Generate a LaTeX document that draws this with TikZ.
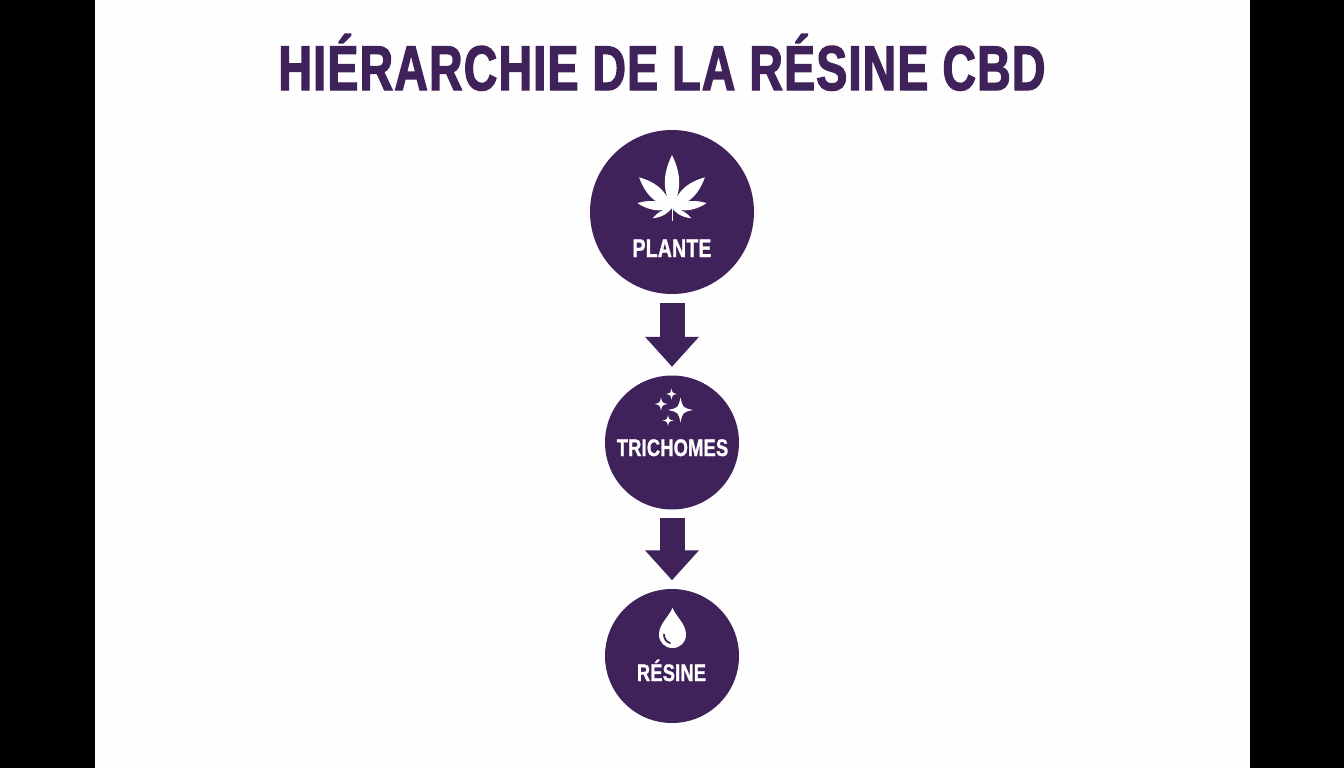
\documentclass[tikz,border=0pt]{standalone}
\usepackage{fontspec}
\usetikzlibrary{arrows.meta}
\newfontfamily\cond[UprightFont=* Bold,FakeStretch=0.76,FakeBold=1.2,LetterSpace=1]{Liberation Sans}
\newfontfamily\condt[UprightFont=* Bold,FakeStretch=0.733,FakeBold=2.2,LetterSpace=2.2]{Liberation Sans}
\definecolor{hpurple}{HTML}{3F2259}
\definecolor{hpage}{HTML}{FEFEFE}
\tikzset{
  x=1pt,y=-1pt,
  disc/.style={circle,fill=hpurple,inner sep=0pt,minimum size=#1},
  lab/.style={text=white,inner sep=0pt},
  flow/.style={draw=hpurple,line width=25pt,shorten <=9pt,shorten >=8.5pt,
    -{Triangle[length=30pt,width=52pt,color=hpurple]}},
  glyph/.style={fill=white,draw=none}
}
\newcommand{\leaflet}[4]{% angle, length, half width, base
  \fill[glyph,shift={#4},rotate=#1]
    (0,0) .. controls (#2*0.2,#3*0.6) and (#2*0.5,#3*1.45) .. (#2,0)
          .. controls (#2*0.5,-#3*1.45) and (#2*0.2,-#3*0.6) .. (0,0) -- cycle;}
\newcommand{\sparkle}[3]{% x,y,r
  \fill[glyph,shift={(#1,#2)}]
    (0,-#3) .. controls (#3*0.18,-#3*0.18) .. (#3,0)
    .. controls (#3*0.18,#3*0.18) .. (0,#3)
    .. controls (-#3*0.18,#3*0.18) .. (-#3,0)
    .. controls (-#3*0.18,-#3*0.18) .. (0,-#3) -- cycle;}
\begin{document}
\begin{tikzpicture}
\useasboundingbox (0,0) rectangle (1344,768);
\fill[black] (0,0) rectangle (1344,768);
\fill[hpage] (95,0) rectangle (1250,768);

\node[text=hpurple,inner sep=0pt,font=\fontsize{63}{63}\condt,text height=45pt,text depth=0pt]
  (title) at (662,67.5) {HIÉRARCHIE DE LA RÉSINE CBD};

\node[disc=164pt] (plante) at (672,212) {};
\node[disc=134pt] (trichomes) at (672,442.5) {};
\node[disc=134pt] (resine) at (672,656) {};

\draw[flow] (plante) -- (trichomes);
\draw[flow,shorten <=8pt] (trichomes) -- (resine);

% leaf
\coordinate (leafbase) at (672,208);
\leaflet{90}{53}{9}{(leafbase)}
\leaflet{137}{45}{8}{(leafbase)}
\leaflet{43}{45}{8}{(leafbase)}
\leaflet{172}{35}{5.5}{(leafbase)}
\leaflet{8}{35}{5.5}{(leafbase)}
\leaflet{-152}{22}{3}{(leafbase)}
\leaflet{-28}{22}{3}{(leafbase)}
\draw[white,line width=1pt] (leafbase) -- ++(0,13);

\node[lab,font=\fontsize{25.5}{25.5}\cond,text height=18pt,text depth=0pt] (plabel) at (672,248) {PLANTE};

% sparkles
\sparkle{680.5}{410}{12.5}
\sparkle{661}{404}{6.5}
\sparkle{671.5}{394}{5.5}
\sparkle{668}{420.5}{5.5}

\node[lab,font=\fontsize{24}{24}\cond,text height=17pt,text depth=0pt] (tlabel) at (672.5,447.5) {TRICHOMES};

% drop
\fill[glyph] (672.5,608) .. controls (668,618) and (659,624) .. (659,634.5)
  .. controls (659,642.5) and (665,648) .. (672.5,648)
  .. controls (680,648) and (686,642.5) .. (686,634.5)
  .. controls (686,624) and (677,618) .. (672.5,608) -- cycle;
\draw[hpurple,line width=1.8pt,line cap=round] (664,634.5) .. controls (664,639) and (666.5,642) .. (670,643);

\node[lab,font=\fontsize{24}{24}\cond,text height=17pt,text depth=0pt] (rlabel) at (671.5,672.5) {RÉSINE};
\end{tikzpicture}
\end{document}
